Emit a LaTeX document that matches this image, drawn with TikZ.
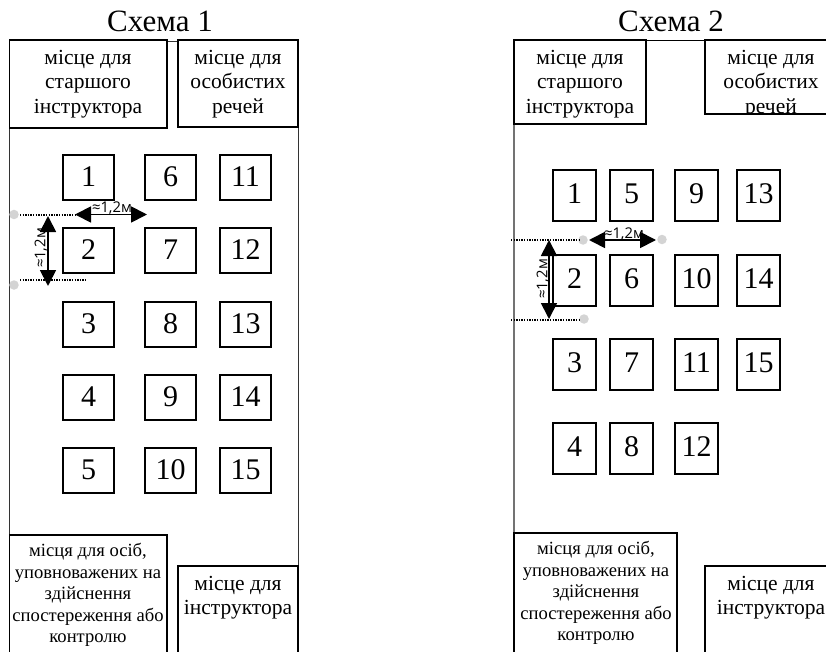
\documentclass[tikz,border=0pt]{standalone}
\usepackage{fontspec}
\setmainfont{Liberation Serif}
\newfontfamily\lblfont{Open Sans}
\usetikzlibrary{arrows.meta}
\tikzset{
  x=1pt,y=-1pt,
  room/.style={draw=black,line width=1.4pt,fill=white,rectangle},
  wall/.style={draw=black!80,line width=0.8pt},
  seatnum/.style={font=\fontsize{30}{30}\selectfont,inner sep=0pt},
  roomtext/.style={font=\fontsize{21.5}{24.5}\selectfont,align=center,inner sep=0pt,anchor=north},
  smalltext/.style={font=\fontsize{18.6}{21.5}\selectfont,align=center,inner sep=0pt,anchor=north},
  heading/.style={font=\fontsize{31}{32}\selectfont,inner sep=0pt},
  dots/.style={line width=1.4pt,dash pattern=on 1.4pt off 1.2pt},
  marker/.style={circle,fill=black!17,inner sep=0pt,minimum size=9.5pt},
  measure/.style={line width=1.8pt,{Triangle[length=16pt,width=16pt]}-{Triangle[length=16pt,width=16pt]}},
  dimtext/.style={font=\lblfont\fontsize{14.8}{15}\selectfont,inner sep=0pt},
}
\begin{document}
\begin{tikzpicture}
\useasboundingbox (0,0) rectangle (826,652);
% Scheme 1
\node[heading] (h1) at (160,21) {Схема 1};
\draw[wall] (9.5,41) -- (9.5,540);
\draw[wall] (298,41) -- (298,570);
\draw[wall] (160,41) -- (180,41);
\draw[room] (9.5,40) rectangle (167,128);
\draw[room] (178,40) rectangle (298,127);
\node[roomtext] (a1) at (88,50) {місце для\\старшого\\інструктора};
\node[roomtext] (a2) at (238,50) {місце для\\особистих\\речей};
\foreach \n/\x/\y in {1/63/155,2/63/228,3/63/302,4/63/375,5/63/448,
  6/145/155,7/145/228,8/145/302,9/145/375,10/145/448,
  11/220/155,12/220/228,13/220/302,14/220/375,15/220/448}{
  \draw[room] (\x,\y) rectangle (\x+51,\y+45);
  \node[seatnum] (s\n) at (\x+25.5,\y+21.5) {\n};
}
\draw[room] (9.5,535) rectangle (167,660);
\draw[room] (178,566) rectangle (298,660);
\node[smalltext] (a3) at (88,543) {місця для осіб,\\уповноважених на\\здійснення\\спостереження або\\контролю};
\node[roomtext] (a4) at (238,576) {місце для\\інструктора};
\coordinate (d1) at (14,214.5);
\coordinate (d2) at (14,285);
\node[marker] at (d1) {};
\node[marker] at (d2) {};
\draw[dots] (20,215) -- (76,215);
\draw[dots] (20,280) -- (86,280);
\coordinate (m1a) at (75,214.5); \coordinate (m1b) at (147,214.5);
\coordinate (m1c) at (48,216); \coordinate (m1d) at (48,286);
\draw[measure] (m1a) -- (m1b);
\draw[measure] (m1c) -- (m1d);
\node[dimtext] (l1) at (112,208) {≈1,2м};
\node[dimtext,rotate=90] (l2) at (41,248) {≈1,2м};
% Scheme 2
\node[heading] (h2) at (671,21) {Схема 2};
\draw[draw=black,line width=0.8pt] (646,40) -- (706,40);
\draw[draw=black!55,line width=2pt] (514,124) -- (514,533);
\draw[room] (514,40) rectangle (646,124);
\begin{scope}
\clip (700,30) rectangle (830,114);
\node[roomtext] (b2) at (771,50) {місце для\\особистих\\речей};
\end{scope}
\draw[line width=1.4pt] (830,114) -- (705,114) -- (705,40) -- (830,40);
\node[roomtext] (b1) at (580,50) {місце для\\старшого\\інструктора};
\foreach \n/\x/\y in {1/553/170,2/553/255,3/553/339,4/553/423,
  5/610/170,6/610/255,7/610/339,8/610/423,
  9/675/170,10/675/255,11/675/339,12/675/423,
  13/737/170,14/737/255,15/737/339}{
  \draw[room] (\x,\y) rectangle (\x+43,\y+51);
  \node[seatnum] (t\n) at (\x+21.5,\y+24) {\n};
}
\draw[room] (514,533) rectangle (677,660);
\draw[room] (705,566) rectangle (830,660);
\node[smalltext] (b3) at (596,541) {місця для осіб,\\уповноважених на\\здійснення\\спостереження або\\контролю};
\node[roomtext] (b4) at (771,576) {місце для\\інструктора};
\coordinate (e1) at (583,240); \coordinate (e2) at (662,239.5); \coordinate (e3) at (584,319);
\node[marker] at (e1) {};
\node[marker] at (e2) {};
\node[marker] at (e3) {};
\draw[dots] (511,240) -- (580,240);
\draw[dots] (511,320) -- (580,320);
\coordinate (m2a) at (589,240); \coordinate (m2b) at (656,240);
\coordinate (m2c) at (549,240); \coordinate (m2d) at (549,319);
\draw[measure] (m2a) -- (m2b);
\draw[measure] (m2c) -- (m2d);
\node[dimtext] (l3) at (624,234) {≈1,2м};
\node[dimtext,rotate=90] (l4) at (543,279) {≈1,2м};
\end{tikzpicture}
\end{document}
